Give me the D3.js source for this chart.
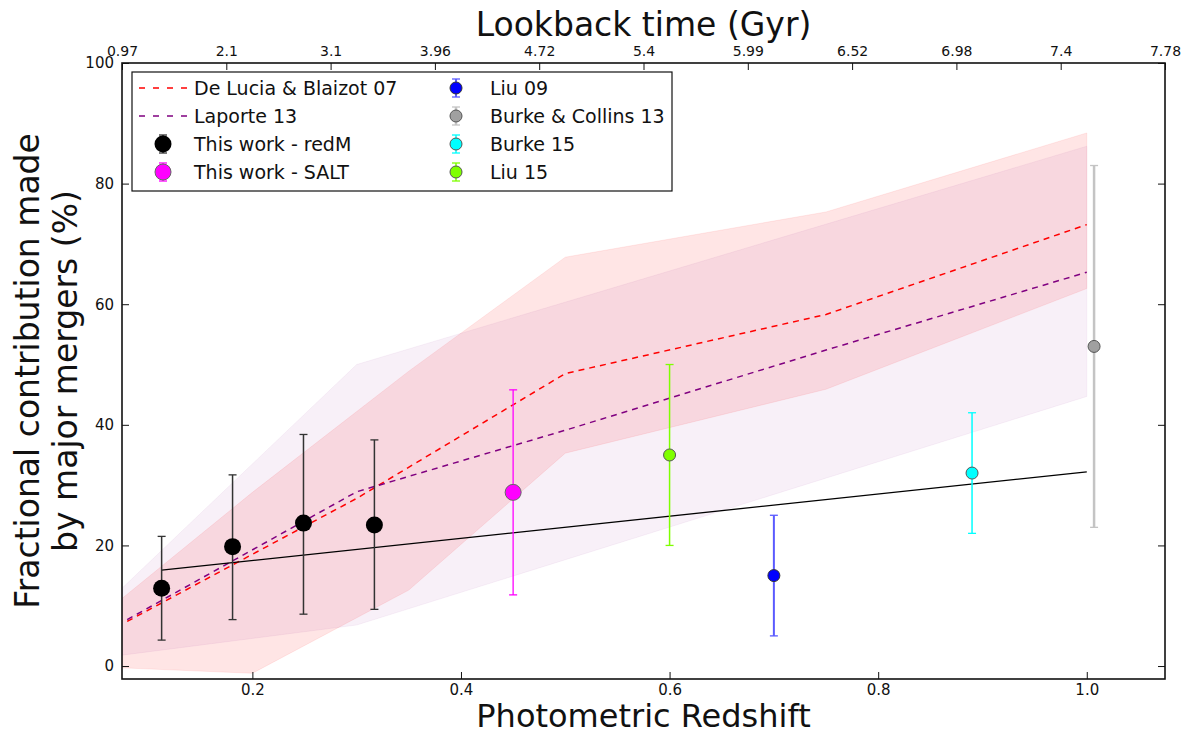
<!DOCTYPE html>
<html lang="en">
<head>
  <meta charset="utf-8">
  <title>Fractional contribution made by major mergers</title>
  <script src="https://cdnjs.cloudflare.com/ajax/libs/d3/7.6.1/d3.min.js"></script>
  <style>
    body { margin: 0; background: white; }
    text { font-family: 'DejaVu Sans', sans-serif; fill: #111; }
  </style>
</head>
<body>
  <div id="chart"></div>
  <script>
    // model predictions: De Lucia & Blaizot 07
    const deLuciaZ = [0.08, 0.3, 0.5, 0.75, 1.0];
    const deLuciaFrac = [7.4, 27.8, 48.5, 58.3, 73.2];
    const deLuciaBandZ = [0.075, 0.2, 0.35, 0.5, 0.75, 1.0];
    const deLuciaLow = [-0.3, -1.2, 12.6, 35.3, 45.9, 62.6];
    const deLuciaHigh = [11.2, 28.8, 48.9, 67.8, 75.3, 88.4];

    // model predictions: Laporte 13
    const laporteZ = [0.08, 0.3, 0.5, 0.75, 1.0];
    const laporteFrac = [7.7, 28.9, 39.1, 52.4, 65.3];
    const laporteBandZ = [0.075, 0.3, 1.0];
    const laporteLow = [1.8, 6.8, 44.7];
    const laporteHigh = [12.9, 50.0, 86.2];

    // this work - redM, plus the fitted trend
    const redMZ = [0.113, 0.181, 0.249, 0.317];
    const redMFrac = [12.9, 19.8, 23.7, 23.4];
    const redMLow = [4.3, 7.7, 8.6, 9.4];
    const redMHigh = [21.5, 31.7, 38.4, 37.5];
    const fitZ = [0.113, 1.0];
    const fitFrac = [15.9, 32.2];

    // this work - SALT
    const saltZ = [0.45];
    const saltFrac = [28.8];
    const saltErr = [17];

    // literature points
    const litNames = ['Liu 09', 'Burke & Collins 13', 'Burke 15', 'Liu 15'];
    const litZ = [0.70, 1.007, 0.89, 0.60];
    const litFrac = [15, 53, 32, 35];
    const litErr = [10, 30, 10, 15];

    // axes
    const redshiftTicks = [0.2, 0.4, 0.6, 0.8, 1.0];
    const fracTicks = [0, 20, 40, 60, 80, 100];
    const lookbackLabels = ['0.97', '2.1', '3.1', '3.96', '4.72', '5.4', '5.99', '6.52', '6.98', '7.4', '7.78'];
    const zDomain = [0.075, 1.075];
    const fracDomain = [-2.15, 100];

    createChart('#chart', 1186, 735);

    function createChart(elementId, width, height) {
      const left = 122, right = 1165, top = 63, bottom = 679;

      const svg = d3.select(elementId)
        .append('svg')
        .attr('width', width)
        .attr('height', height);

      const x = d3.scaleLinear().domain(zDomain).range([left, right]);
      const y = d3.scaleLinear().domain(fracDomain).range([bottom, top]);

      svg.append('defs').append('clipPath').attr('id', 'plot')
        .append('rect')
        .attr('x', left).attr('y', top)
        .attr('width', right - left).attr('height', bottom - top);

      const plot = svg.append('g').attr('clip-path', 'url(#plot)');

      // shaded model ranges
      const band = d3.area()
        .x(d => x(d[0]))
        .y0(d => y(d[1]))
        .y1(d => y(d[2]));

      plot.append('path')
        .datum(deLuciaBandZ.map((z, i) => [z, deLuciaLow[i], deLuciaHigh[i]]))
        .attr('d', band)
        .attr('fill', 'red').attr('fill-opacity', 0.1)
        .attr('stroke', 'red').attr('stroke-opacity', 0.08);

      plot.append('path')
        .datum(laporteBandZ.map((z, i) => [z, laporteLow[i], laporteHigh[i]]))
        .attr('d', band)
        .attr('fill', 'purple').attr('fill-opacity', 0.06)
        .attr('stroke', 'purple').attr('stroke-opacity', 0.05);

      // model lines
      const line = d3.line().x(d => x(d[0])).y(d => y(d[1]));

      plot.append('path')
        .datum(deLuciaZ.map((z, i) => [z, deLuciaFrac[i]]))
        .attr('d', line)
        .attr('fill', 'none').attr('stroke', 'red')
        .attr('stroke-width', 1.5).attr('stroke-dasharray', '6,5');

      plot.append('path')
        .datum(laporteZ.map((z, i) => [z, laporteFrac[i]]))
        .attr('d', line)
        .attr('fill', 'none').attr('stroke', 'purple')
        .attr('stroke-width', 1.5).attr('stroke-dasharray', '6,5');

      plot.append('path')
        .datum(fitZ.map((z, i) => [z, fitFrac[i]]))
        .attr('d', line)
        .attr('fill', 'none').attr('stroke', 'black')
        .attr('stroke-width', 1.3);

      // error bar points
      const redM = redMZ.map((z, i) => ({ z, v: redMFrac[i], lo: redMLow[i], hi: redMHigh[i] }));
      const salt = saltZ.map((z, i) => ({ z, v: saltFrac[i], lo: saltFrac[i] - saltErr[i], hi: saltFrac[i] + saltErr[i] }));
      const lit = litZ.map((z, i) => ({ z, v: litFrac[i], lo: litFrac[i] - litErr[i], hi: litFrac[i] + litErr[i] }));

      const styles = {
        redM: { bar: '#333', bw: 1.5, fill: 'black', edge: 'none', r: 8.5 },
        salt: { bar: 'magenta', bw: 1.3, fill: 'magenta', edge: '#666', r: 8 },
        'Liu 09': { bar: '#5a5aff', bw: 2, fill: 'blue', edge: '#333', r: 6 },
        'Burke & Collins 13': { bar: '#c4c4c4', bw: 2.5, fill: '#a0a0a0', edge: '#555', r: 6 },
        'Burke 15': { bar: 'cyan', bw: 1.5, fill: 'cyan', edge: '#555', r: 6 },
        'Liu 15': { bar: '#7fff00', bw: 1.5, fill: '#7fff00', edge: '#555', r: 6 }
      };

      function errorPoints(g, data, st) {
        const p = g.selectAll(null).data(data).enter().append('g');
        p.append('line')
          .attr('x1', d => x(d.z)).attr('x2', d => x(d.z))
          .attr('y1', d => y(d.lo)).attr('y2', d => y(d.hi))
          .attr('stroke', st.bar).attr('stroke-width', st.bw);
        ['lo', 'hi'].forEach(k => {
          p.append('line')
            .attr('x1', d => x(d.z) - 4).attr('x2', d => x(d.z) + 4)
            .attr('y1', d => y(d[k])).attr('y2', d => y(d[k]))
            .attr('stroke', st.bar).attr('stroke-width', 1.3);
        });
        p.append('circle')
          .attr('cx', d => x(d.z)).attr('cy', d => y(d.v))
          .attr('r', st.r)
          .attr('fill', st.fill).attr('stroke', st.edge).attr('stroke-width', 1);
      }

      errorPoints(plot, redM, styles.redM);
      errorPoints(plot, salt, styles.salt);
      lit.forEach((d, i) => errorPoints(plot, [d], styles[litNames[i]]));

      // axes with inward ticks
      const tickFont = size => g => g.selectAll('text')
        .style('font-size', size).style('font-family', "'DejaVu Sans', sans-serif");

      svg.append('g')
        .attr('transform', `translate(0,${bottom})`)
        .call(d3.axisBottom(x).tickValues(redshiftTicks).tickFormat(d3.format('.1f'))
          .tickSizeInner(-7).tickSizeOuter(0).tickPadding(5))
        .call(g => g.select('.domain').remove())
        .call(tickFont('15px'));

      svg.append('g')
        .attr('transform', `translate(${left},0)`)
        .call(d3.axisLeft(y).tickValues(fracTicks).tickFormat(d3.format('d'))
          .tickSizeInner(-7).tickSizeOuter(0).tickPadding(8))
        .call(g => g.select('.domain').remove())
        .call(tickFont('15px'));

      svg.append('g')
        .attr('transform', `translate(${right},0)`)
        .call(d3.axisRight(y).tickValues(fracTicks).tickFormat('')
          .tickSizeInner(-7).tickSizeOuter(0))
        .call(g => g.select('.domain').remove());

      const topTicks = lookbackLabels.map((_, i) => zDomain[0] + i * (zDomain[1] - zDomain[0]) / (lookbackLabels.length - 1));
      svg.append('g')
        .attr('transform', `translate(0,${top})`)
        .call(d3.axisTop(x).tickValues(topTicks).tickFormat((d, i) => lookbackLabels[i])
          .tickSizeInner(-7).tickSizeOuter(0).tickPadding(7))
        .call(g => g.select('.domain').remove())
        .call(tickFont('14px'));

      svg.selectAll('.tick line').attr('stroke', '#111');

      // frame
      svg.append('rect')
        .attr('x', left).attr('y', top)
        .attr('width', right - left).attr('height', bottom - top)
        .attr('fill', 'none').attr('stroke', '#111').attr('stroke-width', 1.6);

      // titles
      svg.append('text')
        .attr('x', (left + right) / 2).attr('y', 727)
        .attr('text-anchor', 'middle').style('font-size', '32px')
        .text('Photometric Redshift');

      svg.append('text')
        .attr('x', (left + right) / 2).attr('y', 36)
        .attr('text-anchor', 'middle').style('font-size', '33px')
        .text('Lookback time (Gyr)');

      const yTitle = svg.append('text')
        .attr('transform', `translate(0,${(top + bottom) / 2}) rotate(-90)`)
        .attr('text-anchor', 'middle').style('font-size', '33px');
      yTitle.append('tspan').attr('x', 0).attr('y', 39).text('Fractional contribution made');
      yTitle.append('tspan').attr('x', 0).attr('y', 77).text('by major mergers (%)');

      // legend
      const legend = svg.append('g');
      legend.append('rect')
        .attr('x', 132).attr('y', 72).attr('width', 540).attr('height', 119)
        .attr('fill', 'white').attr('stroke', '#111').attr('stroke-width', 1.2);

      const rowY = i => 88 + i * 28;
      const lineEntries = [
        { name: 'De Lucia & Blaizot 07', color: 'red' },
        { name: 'Laporte 13', color: 'purple' }
      ];
      lineEntries.forEach((e, i) => {
        legend.append('line')
          .attr('x1', 139).attr('x2', 188).attr('y1', rowY(i)).attr('y2', rowY(i))
          .attr('stroke', e.color).attr('stroke-width', 1.3).attr('stroke-dasharray', '6,8');
        legend.append('text').attr('x', 194).attr('y', rowY(i) + 7).style('font-size', '19px').text(e.name);
      });

      const pointEntries = [
        { name: 'This work - redM', st: styles.redM, cx: 163, row: 2 },
        { name: 'This work - SALT', st: styles.salt, cx: 163, row: 3 }
      ].concat(litNames.map((n, i) => ({ name: n, st: styles[n], cx: 456, row: i })));

      pointEntries.forEach(e => {
        const cy = rowY(e.row);
        legend.append('line')
          .attr('x1', e.cx).attr('x2', e.cx).attr('y1', cy - 9).attr('y2', cy + 9)
          .attr('stroke', e.st.bar).attr('stroke-width', e.st.bw);
        [-9, 9].forEach(o => legend.append('line')
          .attr('x1', e.cx - 4).attr('x2', e.cx + 4).attr('y1', cy + o).attr('y2', cy + o)
          .attr('stroke', e.st.bar).attr('stroke-width', 1.3));
        legend.append('circle').attr('cx', e.cx).attr('cy', cy).attr('r', e.st.r)
          .attr('fill', e.st.fill).attr('stroke', e.st.edge).attr('stroke-width', 1);
        legend.append('text').attr('x', e.cx === 163 ? 194 : 490).attr('y', cy + 7)
          .style('font-size', '19px').text(e.name);
      });
    }
  </script>
</body>
</html>
